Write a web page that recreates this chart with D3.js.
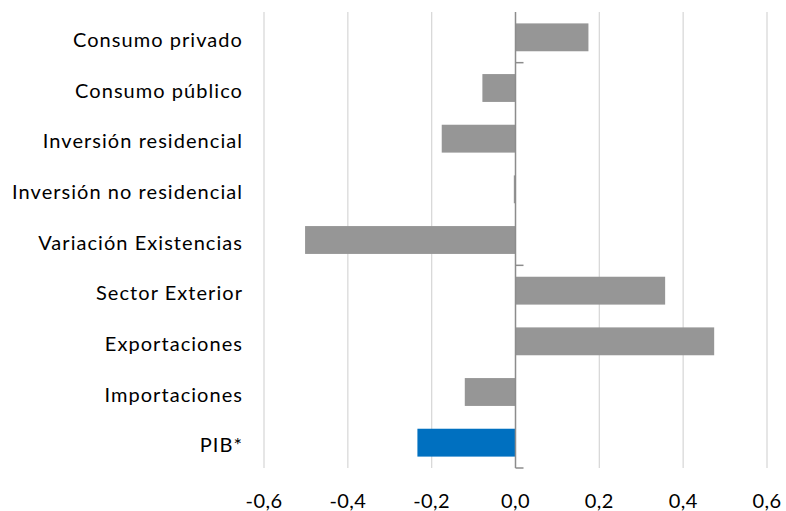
<!DOCTYPE html>
<html><head><meta charset="utf-8">
<script src="https://cdn.jsdelivr.net/npm/d3@7"></script>
<style>body{margin:0;background:#fff}svg{display:block}</style>
</head><body>
<script>
const categories = ["Consumo privado","Consumo público","Inversión residencial","Inversión no residencial","Variación Existencias","Sector Exterior","Exportaciones","Importaciones","PIB*"];
const values = [0.174, -0.079, -0.176, -0.004, -0.502, 0.357, 0.474, -0.121, -0.234];
const highlight = ["PIB*"];
const xTicks = [-0.6,-0.4,-0.2,0,0.2,0.4,0.6];

const W=786,H=511;
const svg=d3.select("body").append("svg").attr("width",W).attr("height",H);
const font="Lato, 'Open Sans', sans-serif";
const x=d3.scaleLinear().domain([-0.6,0.6]).range([264,767]);
const y=d3.scaleBand().domain(categories).range([12,468]).paddingInner(0.45).paddingOuter(0.225);

// gridlines
svg.append("g").selectAll("line").data(xTicks.filter(d=>d!==0)).join("line")
 .attr("x1",d=>x(d)).attr("x2",d=>x(d)).attr("y1",12).attr("y2",468)
 .attr("stroke","#d9d9d9").attr("stroke-width",1.3);

// bars
svg.append("g").selectAll("rect").data(categories).join("rect")
 .attr("x",(d,i)=>x(Math.min(0,values[i])))
 .attr("width",(d,i)=>Math.abs(x(values[i])-x(0)))
 .attr("y",d=>y(d)).attr("height",y.bandwidth())
 .attr("fill",d=>highlight.includes(d)?"#0070C0":"#969696");

// zero axis with category ticks every 4 from bottom
const step=y.step();
const bounds=[468,468-4*step,468-8*step];
svg.append("line").attr("x1",x(0)).attr("x2",x(0)).attr("y1",12).attr("y2",468)
 .attr("stroke","#8c8c8c").attr("stroke-width",1.5);
svg.append("g").selectAll("line").data(bounds).join("line")
 .attr("x1",x(0)).attr("x2",x(0)+8).attr("y1",d=>d).attr("y2",d=>d)
 .attr("stroke","#8c8c8c").attr("stroke-width",1.5);

// category labels
svg.append("g").selectAll("text").data(categories).join("text")
 .attr("x",243).attr("y",d=>y(d)+y.bandwidth()/2+2.5).attr("dy","0.35em")
 .attr("text-anchor","end").attr("font-family",font).attr("font-size",20)
 .attr("letter-spacing","1.05px").attr("fill","#000").text(d=>d);

// x tick labels
const fmt=d=>d3.format(".1f")(d).replace("−","-").replace(".",",");
svg.append("g").selectAll("text").data(xTicks).join("text")
 .attr("x",d=>x(d)).attr("y",508).attr("text-anchor","middle")
 .attr("font-family",font).attr("font-size",20).attr("letter-spacing","0.4px").attr("fill","#000")
 .text(d=>fmt(d));
</script>
</body></html>
